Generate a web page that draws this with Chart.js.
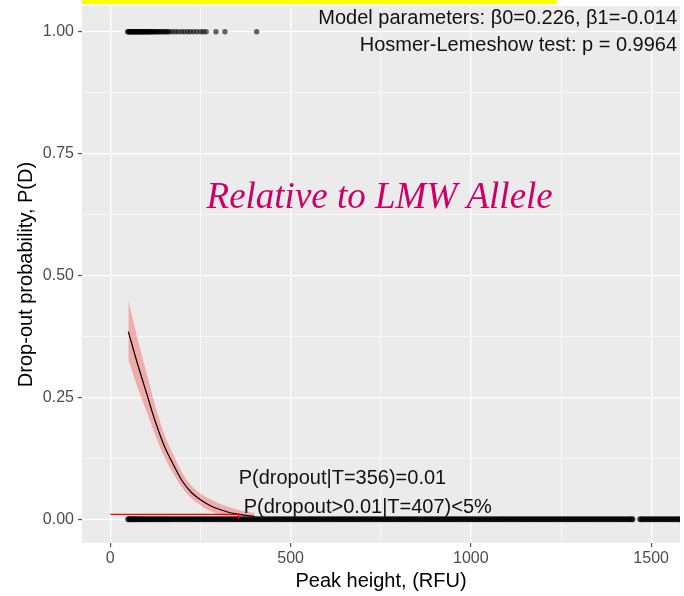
<!DOCTYPE html>
<html lang="en">
<head>
  <meta charset="UTF-8">
  <title>Drop-out probability - Relative to LMW Allele</title>
  <script src="https://cdn.jsdelivr.net/npm/chart.js"></script>
  <style>
    html, body { margin: 0; padding: 0; background: #ffffff; }
    #wrap { width: 684px; height: 596px; position: relative; }
  </style>
</head>
<body>
  <div id="wrap">
    <canvas id="dropoutChart"></canvas>
  </div>
  <script>
    // Fitted logistic curve
    const curveX = [50, 75, 100, 125, 150, 175, 200, 225, 250, 275, 300, 325, 350, 375, 400];
    const curveP = [0.385, 0.32, 0.26, 0.20, 0.15, 0.112, 0.078, 0.055, 0.04, 0.029, 0.021, 0.015, 0.011, 0.008, 0.006];
    const ciLow  = [0.326, 0.272, 0.222, 0.172, 0.128, 0.094, 0.064, 0.043, 0.029, 0.018, 0.011, 0.007, 0.004, 0.003, 0.002];
    const ciHigh = [0.449, 0.372, 0.302, 0.232, 0.174, 0.132, 0.095, 0.069, 0.053, 0.042, 0.033, 0.026, 0.020, 0.016, 0.013];

    // Observed drop-outs (y = 1)
    const dropoutX = [48, 50, 52, 54, 55, 57, 59, 61, 62, 64, 66, 68, 70, 72, 73, 75, 77, 79, 81, 83,
      85, 87, 88, 90, 92, 94, 96, 98, 100, 102, 104, 106, 108, 110, 112, 115, 118, 121, 124, 127,
      130, 133, 136, 140, 144, 148, 152, 156, 160, 164, 172, 180, 188, 197, 205, 214, 222, 231, 240, 250,
      258, 266, 293, 318, 406];

    // Observed non drop-outs (y = 0)
    const retainedX = [50, 54, 58, 62, 66, 70, 75, 80, 85, 90, 96, 102, 108, 114, 120, 126, 132, 138, 144, 150,
      156, 162, 169, 176, 183, 190, 197, 204, 211, 218, 225, 232, 239, 246, 253, 260, 267, 274, 281, 288,
      295, 302, 309, 316, 323, 330, 337, 344, 351, 358, 365, 372, 379, 386, 393, 400, 407, 414, 421, 428,
      435, 442, 449, 456, 463, 470, 477, 484, 491, 498, 505, 512, 519, 526, 533, 540, 547, 554, 561, 568,
      575, 582, 589, 596, 603, 610, 617, 624, 631, 638, 645, 652, 659, 666, 673, 680, 687, 694, 701, 708,
      715, 722, 729, 736, 743, 750, 757, 764, 771, 778, 785, 792, 799, 806, 813, 820, 827, 834, 841, 848,
      855, 862, 869, 876, 883, 890, 897, 904, 911, 918, 925, 932, 939, 946, 953, 960, 967, 974, 981, 988,
      995, 1002, 1009, 1016, 1023, 1030, 1037, 1044, 1051, 1058, 1065, 1072, 1079, 1086, 1093, 1100, 1107, 1114, 1121, 1128,
      1135, 1142, 1149, 1156, 1163, 1170, 1177, 1184, 1191, 1198, 1205, 1212, 1219, 1226, 1233, 1240, 1247, 1254, 1261, 1268,
      1275, 1282, 1289, 1296, 1303, 1310, 1317, 1324, 1331, 1338, 1345, 1352, 1359, 1366, 1373, 1380, 1387, 1394, 1401, 1408,
      1415, 1422, 1429, 1436, 1443, 1448, 1470, 1476, 1483, 1490, 1497, 1504, 1511, 1518, 1525, 1532, 1539, 1546, 1553, 1560,
      1567, 1574, 1581, 1588, 1596];

    // Threshold marker: P = 0.01 reached at T = 356
    const thresholdX = [0, 356, 356];
    const thresholdY = [0.01, 0.01, 0];

    // Axis ticks (minor ticks carry empty labels)
    const xTicks = [0, 250, 500, 750, 1000, 1250, 1500];
    const xTickLabels = ['0', '', '500', '', '1000', '', '1500'];
    const yTicks = [0, 0.125, 0.25, 0.375, 0.5, 0.625, 0.75, 0.875, 1];
    const yTickLabels = ['0.00', '', '0.25', '', '0.50', '', '0.75', '', '1.00'];

    const toPoints = (xs, ys) => xs.map((x, i) => ({ x: x, y: ys[i] }));
    const atLevel = (xs, level) => xs.map(x => ({ x: x, y: level }));

    // Grey panel, yellow strip and text labels
    const panelPlugin = {
      id: 'panel',
      beforeDraw(chart) {
        const { ctx, chartArea } = chart;
        ctx.save();
        ctx.fillStyle = '#ebebeb';
        ctx.fillRect(chartArea.left, chartArea.top, chartArea.right - chartArea.left, chartArea.bottom - chartArea.top);
        ctx.fillStyle = '#ffff00';
        ctx.fillRect(chartArea.left, 0, 475, 4);
        ctx.restore();
      },
      afterDatasetsDraw(chart) {
        const { ctx } = chart;
        const xs = chart.scales.x;
        const ys = chart.scales.y;
        ctx.save();
        ctx.fillStyle = '#111111';
        ctx.font = '20px "Liberation Sans", Arial, sans-serif';
        ctx.textBaseline = 'alphabetic';
        ctx.textAlign = 'right';
        ctx.fillText('Model parameters: \u03b20=0.226, \u03b21=-0.014', xs.getPixelForValue(1572), ys.getPixelForValue(1.016));
        ctx.fillText('Hosmer-Lemeshow test: p = 0.9964', xs.getPixelForValue(1572), ys.getPixelForValue(0.960));
        ctx.textAlign = 'left';
        ctx.fillText('P(dropout|T=356)=0.01', xs.getPixelForValue(356), ys.getPixelForValue(0.072));
        ctx.fillText('P(dropout>0.01|T=407)<5%', xs.getPixelForValue(370), ys.getPixelForValue(0.013));
        ctx.textAlign = 'center';
        ctx.fillStyle = '#cc0066';
        ctx.font = 'italic 37px "Liberation Serif", "Times New Roman", serif';
        ctx.fillText('Relative to LMW Allele', xs.getPixelForValue(747), ys.getPixelForValue(0.638));
        ctx.restore();
      }
    };

    const ctx = document.getElementById('dropoutChart').getContext('2d');

    new Chart(ctx, {
      type: 'scatter',
      data: {
        datasets: [
          {
            type: 'line',
            data: toPoints(thresholdX, thresholdY),
            borderColor: '#ff0000',
            borderWidth: 1.3,
            pointRadius: 0,
            fill: false,
            order: 1
          },
          {
            type: 'line',
            data: toPoints(curveX, curveP),
            borderColor: '#000000',
            borderWidth: 1.2,
            pointRadius: 0,
            cubicInterpolationMode: 'monotone',
            fill: false,
            order: 2
          },
          {
            type: 'line',
            data: toPoints(curveX, ciHigh),
            borderWidth: 0,
            borderColor: 'rgba(0,0,0,0)',
            backgroundColor: 'rgba(255, 0, 0, 0.27)',
            pointRadius: 0,
            cubicInterpolationMode: 'monotone',
            fill: '+1',
            order: 3
          },
          {
            type: 'line',
            data: toPoints(curveX, ciLow),
            borderWidth: 0,
            borderColor: 'rgba(0,0,0,0)',
            pointRadius: 0,
            cubicInterpolationMode: 'monotone',
            fill: false,
            order: 4
          },
          {
            data: atLevel(dropoutX, 1),
            backgroundColor: 'rgba(0, 0, 0, 0.6)',
            borderWidth: 0,
            pointRadius: 2.7,
            order: 5
          },
          {
            data: atLevel(retainedX, 0),
            backgroundColor: 'rgba(0, 0, 0, 0.8)',
            borderWidth: 0,
            pointRadius: 3,
            order: 6
          }
        ]
      },
      options: {
        responsive: true,
        maintainAspectRatio: false,
        animation: false,
        layout: { padding: { left: 0, top: 6, right: 0, bottom: 0 } },
        plugins: {
          legend: { display: false },
          tooltip: { enabled: false }
        },
        scales: {
          x: {
            type: 'linear',
            min: -78.5,
            max: 1580,
            border: { display: false },
            afterBuildTicks: scale => { scale.ticks = xTicks.map(v => ({ value: v })); },
            afterFit: scale => { scale.height = 53; scale.paddingLeft = 0; scale.paddingRight = 0; },
            grid: {
              color: '#ffffff',
              lineWidth: c => (xTickLabels[c.index] ? 1.3 : 0.6),
              tickLength: 4,
              tickWidth: 1,
              tickColor: c => (xTickLabels[c.index] ? '#333333' : 'rgba(0,0,0,0)')
            },
            ticks: {
              autoSkip: false,
              maxRotation: 0,
              padding: 2,
              color: '#4d4d4d',
              font: { size: 16, family: '"Liberation Sans", Arial, sans-serif' },
              callback: (value, index) => xTickLabels[index]
            },
            title: {
              display: true,
              text: 'Peak height, (RFU)',
              color: '#000000',
              font: { size: 20, family: '"Liberation Sans", Arial, sans-serif' },
              padding: { top: 0, bottom: 3 }
            }
          },
          y: {
            type: 'linear',
            min: -0.0486,
            max: 1.0527,
            border: { display: false },
            afterBuildTicks: scale => { scale.ticks = yTicks.map(v => ({ value: v })); },
            afterFit: scale => { scale.width = 82; scale.paddingTop = 0; scale.paddingBottom = 0; },
            grid: {
              color: '#ffffff',
              lineWidth: c => (yTickLabels[c.index] ? 1.3 : 0.6),
              tickLength: 4,
              tickWidth: 1,
              tickColor: c => (yTickLabels[c.index] ? '#333333' : 'rgba(0,0,0,0)')
            },
            ticks: {
              autoSkip: false,
              padding: 4,
              color: '#4d4d4d',
              font: { size: 16, family: '"Liberation Sans", Arial, sans-serif' },
              callback: (value, index) => yTickLabels[index]
            },
            title: {
              display: true,
              text: 'Drop-out probability, P(D)',
              color: '#000000',
              font: { size: 20, family: '"Liberation Sans", Arial, sans-serif' },
              padding: { top: 14, bottom: 14 }
            }
          }
        }
      },
      plugins: [panelPlugin]
    });
  </script>
</body>
</html>
